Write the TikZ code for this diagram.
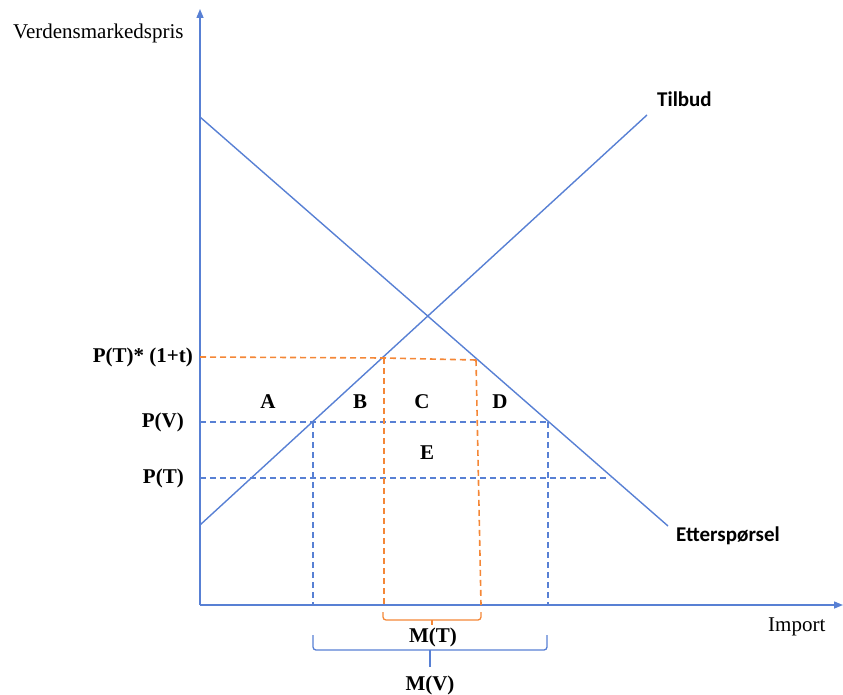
\documentclass[tikz,border=0pt]{standalone}
\usepackage{fontspec}
\setmainfont{Liberation Serif}
\newfontfamily\calibfont{Carlito}
\usetikzlibrary{arrows.meta}
\definecolor{lblue}{RGB}{88,128,212}
\definecolor{lorange}{RGB}{244,135,55}
\begin{document}
\begin{tikzpicture}[x=1pt,y=-1pt,
  curve/.style={draw=lblue, line width=1.4pt},
  axis/.style={draw=lblue, line width=1.4pt, -{Triangle[length=9pt,width=7pt]}},
  bdash/.style={draw=lblue, line width=1.3pt, dash pattern=on 6pt off 4pt},
  odash/.style={draw=lorange, line width=1.6pt, dash pattern=on 6pt off 4pt},
  brace/.style={line width=1.3pt, rounded corners=3pt},
  lab/.style={font=\fontsize{21}{24}\selectfont\bfseries, inner sep=0pt},
  plain/.style={font=\fontsize{21}{24}\selectfont, inner sep=0pt},
  sans/.style={font=\calibfont\fontsize{21}{24}\selectfont\bfseries, inner sep=0pt}]
\useasboundingbox (0,0) rectangle (843,695);

% axes
\coordinate (O) at (200,605);
\coordinate (ytip) at (200,9);
\coordinate (xtip) at (843,605);
\draw[axis] (O) -- (ytip);
\draw[axis] (O) -- (xtip);

% curves
\coordinate (d0) at (200,117);
\coordinate (d1) at (668,526);
\coordinate (s0) at (200,525);
\coordinate (s1) at (647,115);
\draw[curve] (d0) -- (d1);
\draw[curve] (s0) -- (s1);

% key points
\coordinate (yPt1) at (200,357);
\coordinate (sPt1) at (384,358);
\coordinate (dPt1) at (476,360);
\coordinate (yPV) at (200,422);
\coordinate (sPV) at (313,422);
\coordinate (dPV) at (548,422);
\coordinate (yPT) at (200,478);
\coordinate (ePT) at (610,478);
\coordinate (xs) at (313,605);
\coordinate (xd) at (548,605);
\coordinate (xo1) at (384,605);
\coordinate (xo2) at (481,605);

% blue dashed
\draw[bdash] (yPV) -- (dPV);
\draw[bdash] (yPT) -- (ePT);
\draw[bdash] (sPV) -- (xs);
\draw[bdash] (dPV) -- (xd);

% orange dashed
\draw[odash] (yPt1) -- (sPt1) -- (dPt1);
\draw[odash] (sPt1) -- (xo1);
\draw[odash] (dPt1) -- (xo2);

% braces
\draw[brace, lorange] (383,612) -- (383,620) -- (481,620) -- (481,612);
\draw[lorange, line width=1.3pt] (432,620) -- (432,625);
\draw[brace, lblue] (313,635) -- (313,650) -- (547,650) -- (547,635);
\draw[lblue, line width=1.3pt] (430,650) -- (430,667);

% labels
\node[plain, anchor=west] (ylab) at (13,33) {Verdensmarkedspris};
\node[plain, anchor=west] (xlab) at (768,627) {Import};
\node[sans, anchor=west] (tilbud) at (657,99) {Tilbud};
\node[sans, anchor=west] (ettersp) at (676,536) {Etterspørsel};
\node[lab, anchor=east] (lPt1) at (193,357) {P(T)* (1+t)};
\node[lab, anchor=east] (lPV) at (184,422) {P(V)};
\node[lab, anchor=east] (lPT) at (184,478) {P(T)};
\node[lab] (A) at (268,402) {A};
\node[lab] (B) at (360,402) {B};
\node[lab] (C) at (422,402) {C};
\node[lab] (D) at (500,402) {D};
\node[lab] (E) at (427,453) {E};
\node[lab] (MT) at (433,637) {M(T)};
\node[lab] (MV) at (430,685) {M(V)};
\end{tikzpicture}
\end{document}
